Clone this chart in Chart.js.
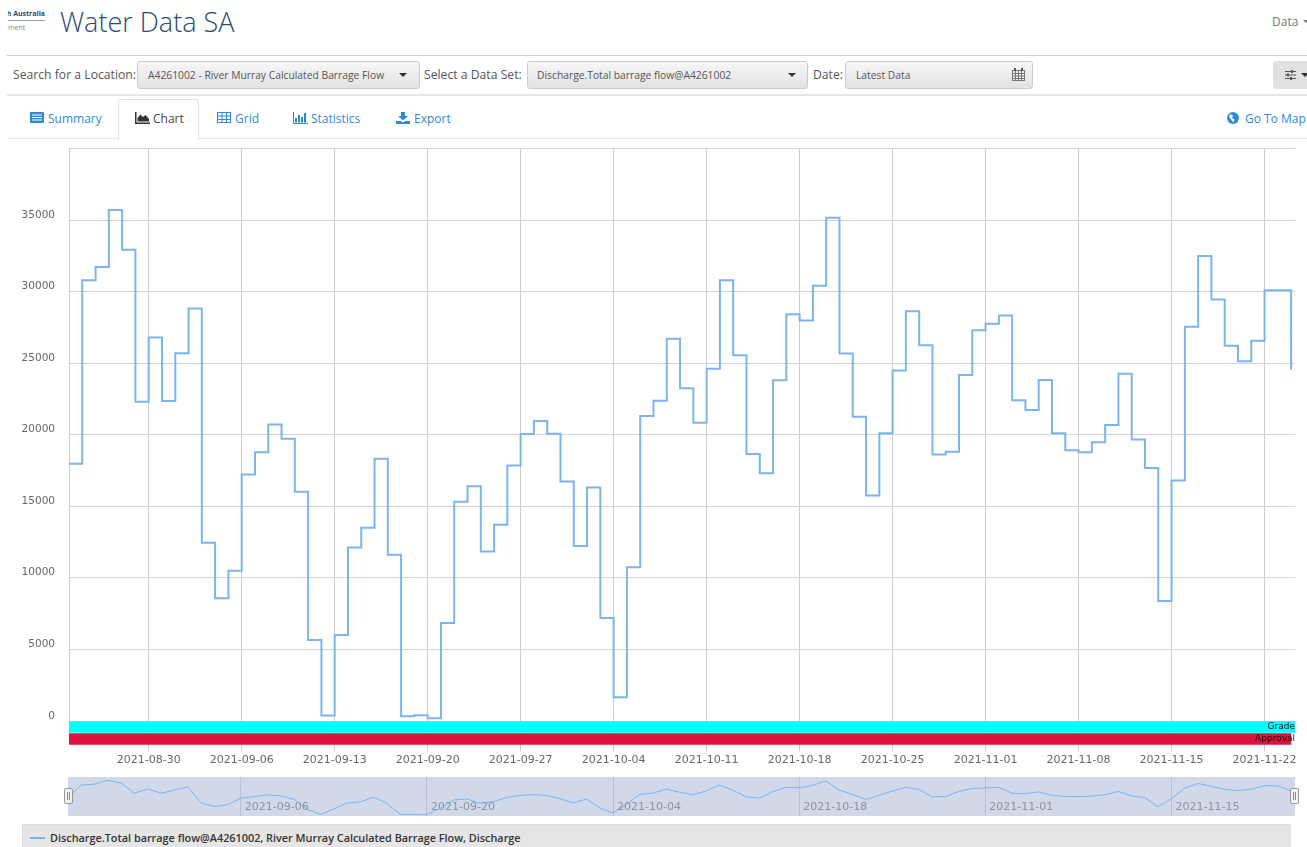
<!DOCTYPE html>
<html>
<head>
<meta charset="utf-8">
<title>Water Data SA</title>
<script src="https://cdn.jsdelivr.net/npm/chart.js@4"></script>
<style>
html, body { margin: 0; padding: 0; background: #fff; overflow: hidden; }
body { width: 1307px; height: 847px; position: relative; font-family: "Open Sans", sans-serif; }
.abs { position: absolute; white-space: nowrap; }
.rule { position: absolute; left: 7px; right: 0; }
.lbl { font-size: 12.2px; color: #555; line-height: 28px; top: 61px; }
.sel { position: absolute; top: 61px; height: 26px; line-height: 26px; border: 1px solid #ccc; border-radius: 3px;
       background: linear-gradient(#f7f7f7, #e2e2e2); font-size: 10.3px; color: #555; padding-left: 10px; box-sizing: content-box; white-space: nowrap; }
.caret { position: absolute; width: 0; height: 0; border-left: 4px solid transparent; border-right: 4px solid transparent; border-top: 4px solid #333; top: 73px; }
.tab { position: absolute; top: 110px; font-size: 12px; line-height: 18px; color: #2f8ad6; white-space: nowrap; }
.tab svg { position: absolute; left: -18px; top: 2px; }
canvas { position: absolute; display: block; }
.handle { position: absolute; top: 788px; width: 7px; height: 14px; background: #f2f2f2; border: 1px solid #999; border-radius: 2px; }
.handle::after { content: ""; position: absolute; left: 2px; top: 3px; width: 1px; height: 8px; border-left: 1px solid #888; border-right: 1px solid #888; }
</style>
</head>
<body>

<!-- page header -->
<div class="abs" style="left:8px;top:9px;width:37px;overflow:hidden;height:11px;font-size:7px;font-weight:700;color:#2c4770;direction:rtl">South Australia</div>
<div class="abs" style="left:8px;top:20px;width:37px;height:1px;background:#9aa3ad"></div>
<div class="abs" style="left:8px;top:23px;font-size:7px;color:#888">ment</div>
<div class="abs" style="left:60px;top:3px;font-size:27px;line-height:38px;font-weight:300;color:#2c4a78">Water Data SA</div>
<div class="abs" style="left:1272px;top:13px;font-size:12px;line-height:17px;color:#777">Data</div>
<div class="caret" style="left:1303px;top:20px;border-top-color:#777;border-width:3px 3px 0 3px"></div>

<div class="rule" style="top:55px;height:1px;background:#ccc"></div>
<div class="abs lbl" style="left:13px">Search for a Location:</div>
<div class="sel" style="left:137px;width:271px">A4261002 - River Murray Calculated Barrage Flow</div>
<div class="caret" style="left:399px"></div>
<div class="abs lbl" style="left:424px">Select a Data Set:</div>
<div class="sel" style="left:527px;width:270px;padding-left:9px">Discharge.Total barrage flow@A4261002</div>
<div class="caret" style="left:788px"></div>
<div class="abs lbl" style="left:813px">Date:</div>
<div class="sel" style="left:845px;width:176px">Latest Data</div>
<svg class="abs" style="left:1012px;top:68px" width="13" height="13" viewBox="0 0 13 13">
  <rect x="0.5" y="2.5" width="12" height="10" fill="#f0f0f0" stroke="#777"/>
  <path d="M0 5.5H13M0 8H13M0 10.5H13M3.5 2V13M6.5 2V13M9.5 2V13" stroke="#777" stroke-width="1"/>
  <path d="M3 0V3M10 0V3" stroke="#555" stroke-width="2"/>
</svg>
<div class="abs" style="left:1273px;top:61px;width:34px;height:28px;background:#e1e1e1;border-radius:3px 0 0 3px"></div>
<svg class="abs" style="left:1285px;top:70px" width="11" height="10" viewBox="0 0 11 10">
  <path d="M0 1.5H11M0 5H11M0 8.5H11" stroke="#555"/><path d="M7 0V3M3 3.5V6.5M6 7V10" stroke="#555" stroke-width="2"/>
</svg>
<div class="caret" style="left:1301px"></div>
<div class="rule" style="top:94px;height:2px;background:#e6e6e6"></div>

<!-- tabs -->
<div class="abs" style="left:118px;top:99px;width:79px;height:40px;background:#fff;border:1px solid #e2e2e2;border-bottom:0;border-radius:3px 3px 0 0;z-index:2"></div>
<div class="rule" style="top:138px;height:1px;background:#e6e6e6"></div>
<div class="tab" style="left:48px"><svg width="14" height="12" viewBox="0 0 14 12"><rect width="14" height="11" rx="1" fill="#2f8ad6"/><path d="M2 3H12M2 5.5H12M2 8H12" stroke="#fff"/></svg>Summary</div>
<div class="tab" style="left:153px;color:#444;z-index:3"><svg width="15" height="12" viewBox="0 0 15 12"><path d="M0 0V12H15V10.5H1.5V0Z M2.5 9.5V6L5.5 2.5L8 5L10.5 3L14 7V9.5Z" fill="#333"/></svg>Chart</div>
<div class="tab" style="left:235px"><svg width="14" height="12" viewBox="0 0 14 12"><rect x="0.5" y="0.5" width="13" height="10" fill="none" stroke="#2f8ad6"/><path d="M0 4H14M0 7.5H14M5 0V11M9.5 0V11" stroke="#2f8ad6"/></svg>Grid</div>
<div class="tab" style="left:311px"><svg width="15" height="12" viewBox="0 0 15 12"><path d="M0.5 0V11.5H15" fill="none" stroke="#2f8ad6"/><path d="M3 6V10.5M6 3V10.5M9 5V10.5M12 1V10.5" stroke="#2f8ad6" stroke-width="2"/></svg>Statistics</div>
<div class="tab" style="left:414px"><svg width="14" height="12" viewBox="0 0 14 12"><path d="M5 0H9V4H12L7 8.5L2 4H5Z M0 9H4.5L7 10.5L9.5 9H14V12H0Z" fill="#2f8ad6"/></svg>Export</div>
<div class="tab" style="left:1245px"><svg width="12" height="12" viewBox="0 0 12 12"><circle cx="6" cy="6" r="6" fill="#2f8ad6"/><path d="M3 2L6 3.5L5 6L7.5 7.5L6.5 10.5L4.5 8L2 5Z" fill="#fff"/></svg>Go To Map</div>

<!-- main chart and range navigator -->
<canvas id="flowChart" width="1307" height="645" style="left:0;top:122px"></canvas>
<canvas id="navChart" width="1227" height="39" style="left:68px;top:777px;background:#d0d8ea"></canvas>
<div class="handle" style="left:64px"></div>
<div class="handle" style="left:1290px"></div>

<!-- legend -->
<div class="abs" style="left:22px;top:824px;width:1267px;height:23px;background:#e5e5e5;border:1px solid #ddd;border-bottom:0"></div>
<div class="abs" style="left:30px;top:837px;width:15px;height:2px;background:#7cb5ec"></div>
<div class="abs" style="left:50px;top:829px;font-size:10.85px;line-height:17px;font-weight:600;color:#333">Discharge.Total barrage flow@A4261002, River Murray Calculated Barrage Flow, Discharge</div>

<script>
// Days shown on the chart
const dates = [
    "2021-08-24", "2021-08-25", "2021-08-26", "2021-08-27", "2021-08-28", "2021-08-29", "2021-08-30", "2021-08-31",
    "2021-09-01", "2021-09-02", "2021-09-03", "2021-09-04", "2021-09-05", "2021-09-06", "2021-09-07", "2021-09-08",
    "2021-09-09", "2021-09-10", "2021-09-11", "2021-09-12", "2021-09-13", "2021-09-14", "2021-09-15", "2021-09-16",
    "2021-09-17", "2021-09-18", "2021-09-19", "2021-09-20", "2021-09-21", "2021-09-22", "2021-09-23", "2021-09-24",
    "2021-09-25", "2021-09-26", "2021-09-27", "2021-09-28", "2021-09-29", "2021-09-30", "2021-10-01", "2021-10-02",
    "2021-10-03", "2021-10-04", "2021-10-05", "2021-10-06", "2021-10-07", "2021-10-08", "2021-10-09", "2021-10-10",
    "2021-10-11", "2021-10-12", "2021-10-13", "2021-10-14", "2021-10-15", "2021-10-16", "2021-10-17", "2021-10-18",
    "2021-10-19", "2021-10-20", "2021-10-21", "2021-10-22", "2021-10-23", "2021-10-24", "2021-10-25", "2021-10-26",
    "2021-10-27", "2021-10-28", "2021-10-29", "2021-10-30", "2021-10-31", "2021-11-01", "2021-11-02", "2021-11-03",
    "2021-11-04", "2021-11-05", "2021-11-06", "2021-11-07", "2021-11-08", "2021-11-09", "2021-11-10", "2021-11-11",
    "2021-11-12", "2021-11-13", "2021-11-14", "2021-11-15", "2021-11-16", "2021-11-17", "2021-11-18", "2021-11-19",
    "2021-11-20", "2021-11-21", "2021-11-22", "2021-11-23", "2021-11-24"
];

// Discharge values, one per day
const discharge = [
    17970, 30794, 31730, 35718, 32931, 22315, 26806, 22363,
    25701, 28824, 12466, 8575, 10497, 17222, 18784, 20729,
    19720, 16021, 5669, 384, 6005, 12130, 13499, 18327,
    11626, 336, 408, 192, 6846, 15325, 16406, 11842,
    13715, 17847, 20057, 20969, 20081, 16742, 12226, 16310,
    7206, 1657, 10737, 21306, 22387, 26710, 23251, 20849,
    24620, 30794, 25557, 18664, 17318, 23804, 28416, 27983,
    30409, 35165, 25677, 21258, 15757, 20105, 24500, 28632,
    26254, 18616, 18808, 24188, 27311, 27767, 28344, 22411,
    21738, 23828, 20105, 18928, 18784, 19480, 20681, 24260,
    19672, 17679, 8383, 16814, 27551, 32499, 29449, 26230,
    25149, 26566, 30097, 30097, 24548
];

// Axis ticks
const weekTicks = ["2021-08-30", "2021-09-06", "2021-09-13", "2021-09-20", "2021-09-27", "2021-10-04", "2021-10-11",
    "2021-10-18", "2021-10-25", "2021-11-01", "2021-11-08", "2021-11-15", "2021-11-22"];
const navTicks = ["2021-09-06", "2021-09-20", "2021-10-04", "2021-10-18", "2021-11-01", "2021-11-15"];
const flowTicks = [0, 5000, 10000, 15000, 20000, 25000, 30000, 35000, 40000];

// Grade and approval bands under the plot
const bandNames = ["Grade", "Approval"];
const bandColors = ["#00ffff", "#dc143c"];
const bandEnds = ["2021-11-24T07:00:00Z", "2021-11-24"];

const axisMin = Date.parse(dates[0]);
const axisMax = Date.parse("2021-11-24T07:00:00Z");

const points = dates.map((d, i) => ({ x: Date.parse(d), y: discharge[i] }));

function dateLabel(ms) {
    return new Date(ms).toISOString().slice(0, 10);
}

function setTicks(list) {
    return function (scale) {
        scale.ticks = list.map(d => ({ value: Date.parse(d) }));
    };
}

// Writes the band names at the right hand end of each band
const bandLabels = {
    id: "bandLabels",
    afterDatasetsDraw(chart) {
        const ctx = chart.ctx;
        const band = chart.scales.band;
        ctx.save();
        ctx.font = "9px 'DejaVu Sans'";
        ctx.fillStyle = "#111";
        ctx.textAlign = "right";
        ctx.textBaseline = "middle";
        bandNames.forEach((name, i) => {
            ctx.fillText(name, chart.chartArea.right, band.getPixelForValue(i));
        });
        ctx.restore();
    }
};

// Navigator dates sit inside the plot, just right of their grid line
const navLabels = {
    id: "navLabels",
    afterDatasetsDraw(chart) {
        const ctx = chart.ctx;
        ctx.save();
        ctx.font = "11px 'DejaVu Sans'";
        ctx.fillStyle = "#8b92a3";
        ctx.textAlign = "left";
        ctx.textBaseline = "middle";
        navTicks.forEach(d => {
            ctx.fillText(d, chart.scales.x.getPixelForValue(Date.parse(d)) + 4, 30);
        });
        ctx.restore();
    }
};

new Chart(document.getElementById("flowChart"), {
    data: {
        datasets: [
            {
                type: "bar",
                indexAxis: "y",
                xAxisID: "x",
                yAxisID: "band",
                data: bandNames.map((name, i) => ({ x: [axisMin, Date.parse(bandEnds[i])], y: name })),
                backgroundColor: bandColors,
                barPercentage: 1,
                categoryPercentage: 0.96,
                order: 2
            },
            {
                type: "line",
                xAxisID: "x",
                yAxisID: "y",
                data: points,
                stepped: true,
                borderColor: "#7cb5ec",
                borderWidth: 2,
                pointRadius: 0,
                fill: false,
                order: 1
            }
        ]
    },
    options: {
        responsive: false,
        animation: false,
        layout: { autoPadding: false, padding: { top: 8, right: 12, left: 0, bottom: 0 } },
        plugins: { legend: { display: false }, tooltip: { enabled: false } },
        scales: {
            x: {
                type: "linear",
                position: "bottom",
                min: axisMin,
                max: axisMax,
                afterBuildTicks: setTicks(weekTicks),
                afterFit(scale) { scale.height = 22; },
                border: { display: false },
                grid: { color: "#ccc", tickLength: 6 },
                ticks: {
                    autoSkip: false,
                    maxRotation: 0,
                    padding: 3,
                    color: "#666",
                    font: { family: "'DejaVu Sans'", size: 11 },
                    callback: value => dateLabel(value)
                }
            },
            y: {
                type: "linear",
                position: "left",
                stack: "flow",
                stackWeight: 573,
                weight: 1,
                min: 0,
                max: 40000,
                afterBuildTicks(scale) { scale.ticks = flowTicks.map(v => ({ value: v })); },
                afterFit(scale) { scale.width = 69; },
                border: { display: true, color: "#ccc" },
                grid: { color: "#d4d4d4", drawTicks: false },
                ticks: {
                    align: "end",
                    padding: 14,
                    color: "#666",
                    font: { family: "'DejaVu Sans'", size: 10.5 },
                    callback: value => (value === 40000 ? "" : value)
                }
            },
            band: {
                type: "category",
                position: "left",
                stack: "flow",
                stackWeight: 24,
                weight: 0,
                labels: bandNames,
                offset: true,
                afterFit(scale) { scale.width = 69; },
                border: { display: false },
                grid: { display: false },
                ticks: { display: false }
            }
        }
    },
    plugins: [bandLabels]
});

new Chart(document.getElementById("navChart"), {
    type: "line",
    data: {
        datasets: [{
            data: points,
            borderColor: "#7cb5ec",
            borderWidth: 1,
            pointRadius: 0,
            fill: false
        }]
    },
    options: {
        responsive: false,
        animation: false,
        layout: { autoPadding: false, padding: 0 },
        plugins: { legend: { display: false }, tooltip: { enabled: false } },
        scales: {
            x: {
                type: "linear",
                min: axisMin,
                max: axisMax,
                afterBuildTicks: setTicks(navTicks),
                afterFit(scale) { scale.height = 0; },
                border: { display: false },
                grid: { color: "#b7c1d6", drawTicks: false },
                ticks: { display: false }
            },
            y: {
                display: false,
                min: -1270,
                max: 39170
            }
        }
    },
    plugins: [navLabels]
});
</script>
</body>
</html>
